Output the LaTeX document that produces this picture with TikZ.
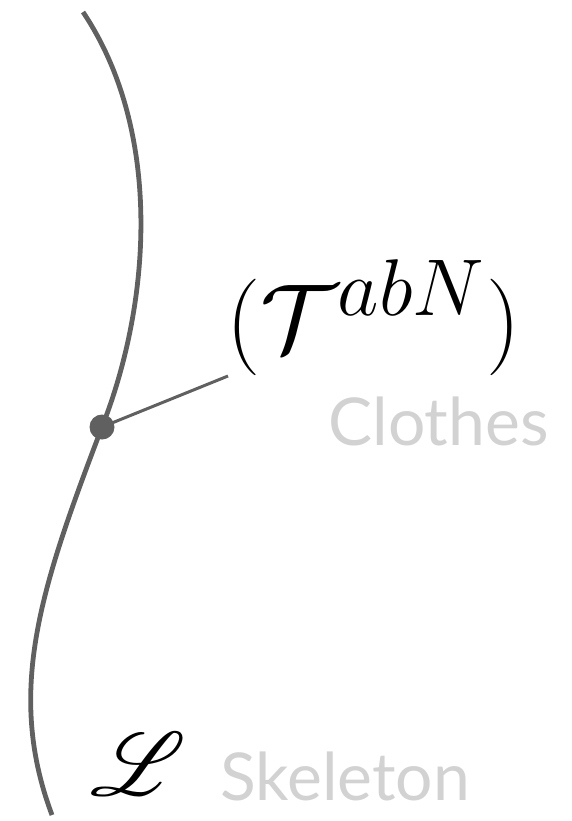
\documentclass[tikz,border=0pt]{standalone}
\usepackage{amsmath,mathrsfs,graphicx}
\usepackage{fontspec}
\setsansfont{Lato}
\definecolor{skgray}{RGB}{96,96,96}
\definecolor{lblgray}{RGB}{210,210,210}
\usetikzlibrary{positioning}

\begin{document}
\begin{tikzpicture}[x=0.5pt, y=-0.5pt,
        skelline/.style={draw=skgray, line width=2.4pt},
        stalk/.style={draw=skgray, line width=1.5pt},
        jointdot/.style={circle, fill=skgray, inner sep=0pt, minimum size=12.5pt},
        tag/.style={inner sep=0pt, anchor=base west, font=\fontsize{24.88}{30}\selectfont},
        caption/.style={inner sep=0pt, anchor=base west, text=lblgray,
                        font=\sffamily\fontsize{33}{36}\selectfont}
      ]
        \useasboundingbox (0,0) rectangle (572,821);
        % skeleton curve
        \coordinate (top) at (83,12);
        \coordinate (bot) at (52,815);
        \node[jointdot] (joint) at (102,427) {};
        \draw[skelline] (top) .. controls (162,130) and (152,300) .. (joint.center)
                              .. controls (42,585) and (5,690) .. (bot);
        \node[tag] (tensor) at (226,351) {\scalebox{1.94}{$(\mathcal{T}^{abN})$}};
        \coordinate (tip) at (228,376);
        \draw[stalk] (joint.center) -- (tip);
        \node[caption] (clothes) at (328,445) {Clothes};
        \node[tag] (lagr) at (90,795) {\scalebox{1.8}{$\mathscr{L}$}};
        \node[caption] (skeleton) at (220,800) {Skeleton};
      \end{tikzpicture}
\end{document}
